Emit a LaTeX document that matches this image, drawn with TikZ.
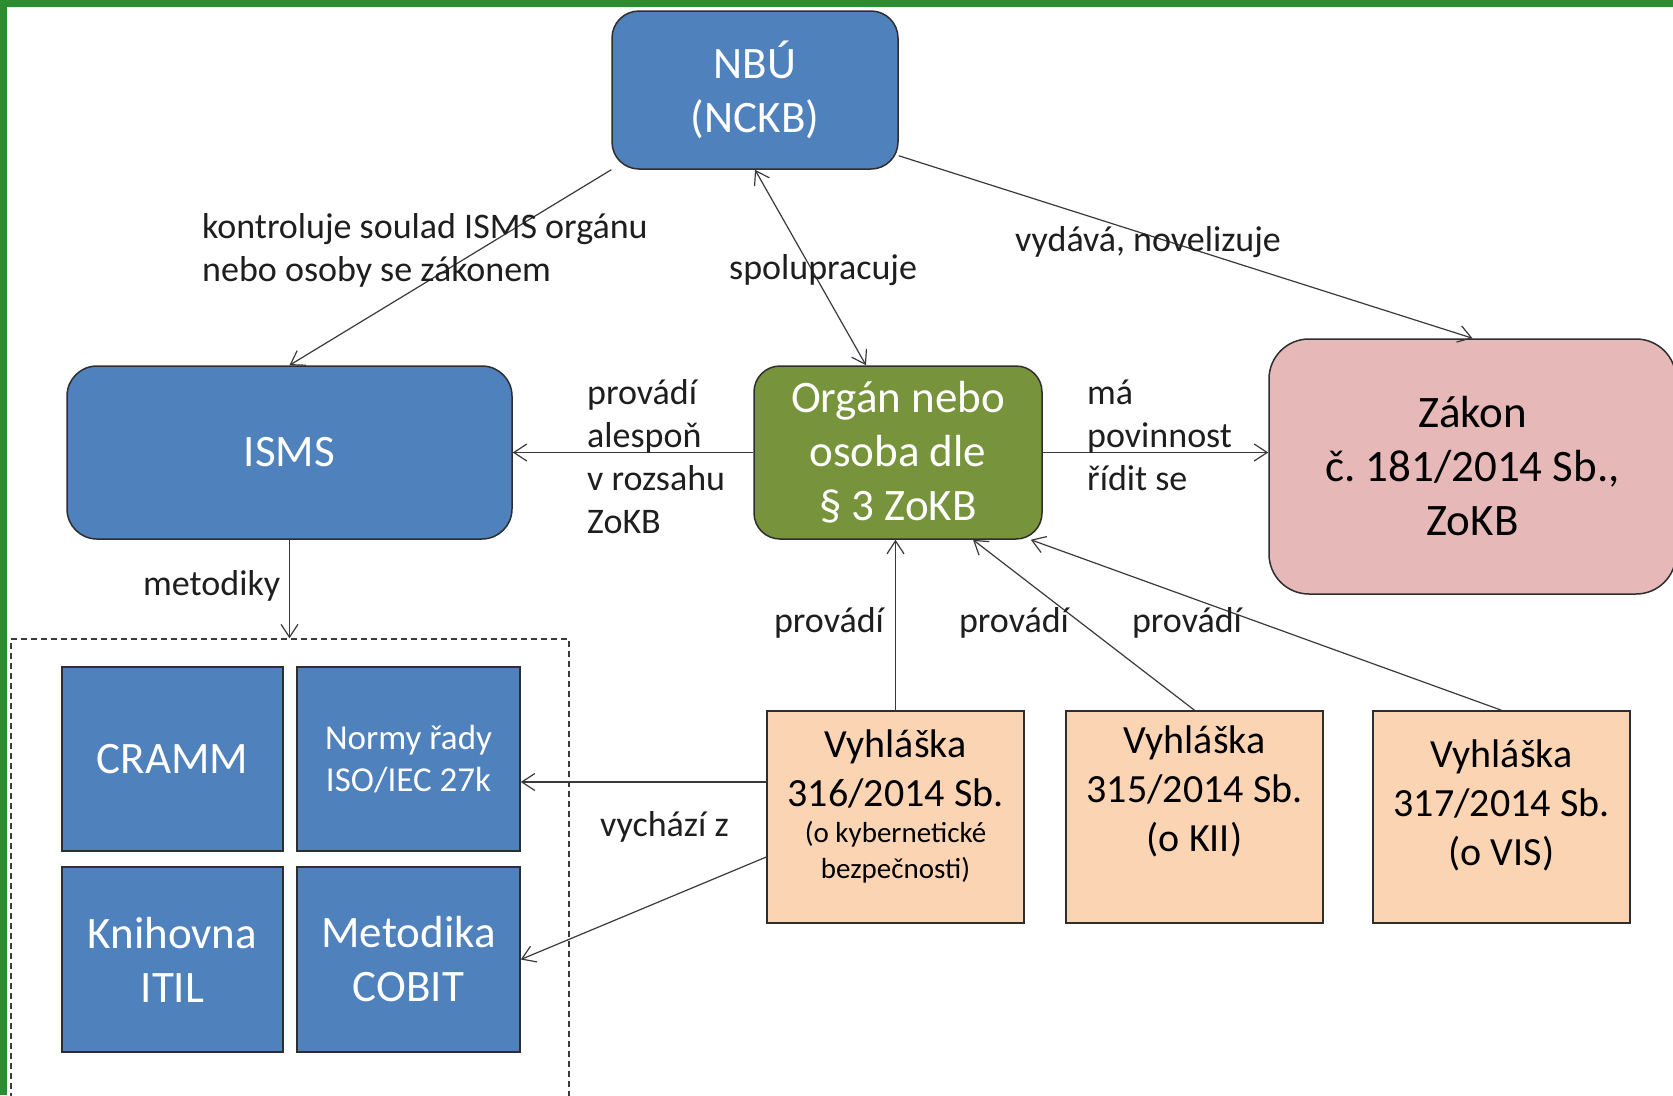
\documentclass[tikz,border=0pt]{standalone}
\usepackage{fontspec}
\setmainfont{Carlito}
\frenchspacing
\usetikzlibrary{arrows.meta,calc}
\definecolor{blueb}{HTML}{4F81BD}
\definecolor{greenb}{HTML}{77933C}
\definecolor{pinkb}{HTML}{E6B9B8}
\definecolor{peachb}{HTML}{FBD4B4}
\definecolor{boxline}{HTML}{2E2E2E}
\definecolor{linec}{HTML}{3A3A3A}
\definecolor{labc}{HTML}{1E1E1E}
\definecolor{gbar}{HTML}{2B8C30}
\tikzset{
  box/.style={rectangle, draw=boxline, line width=1.5pt, inner sep=0pt, align=center},
  bignode/.style={font=\fontsize{45}{54}\selectfont},
  lab/.style={font=\fontsize{36}{43}\selectfont, text=labc, inner sep=0pt, align=left},
  vyh/.style={font=\fontsize{40}{49}\selectfont, text=black, inner sep=0pt, align=center},
  arr/.style={draw=linec, line width=1.2pt, -{Straight Barb[length=13pt,width=17pt,line width=1.2pt]}},
  darr/.style={draw=linec, line width=1.2pt, {Straight Barb[length=13pt,width=17pt,line width=1.2pt]}-{Straight Barb[length=13pt,width=17pt,line width=1.2pt]}},
}
\begin{document}
\begin{tikzpicture}[x=1pt,y=-1pt]
\useasboundingbox (0,0) rectangle (1673,1095);
\fill[white] (0,0) rectangle (1673,1095);
% green frame
\fill[gbar] (0,0) rectangle (1673,7);
\fill[gbar] (0,0) rectangle (7,1095);

% main nodes
\node[box, bignode, fill=blueb, text=white, rounded corners=27pt, minimum width=286pt, minimum height=158pt] (nbu) at (755,90) {NBÚ\\(NCKB)};
\node[box, bignode, fill=blueb, text=white, rounded corners=30pt, minimum width=445pt, minimum height=173pt] (isms) at (289.5,452.5) {ISMS};
\node[box, bignode, fill=greenb, text=white, rounded corners=26pt, minimum width=288pt, minimum height=173pt] (org) at (898,452.5) {Orgán nebo\\osoba dle\\§ 3 ZoKB};
\node[box, bignode, fill=pinkb, text=black, rounded corners=40pt, minimum width=407pt, minimum height=255pt] (zakon) at (1472.5,466.5) {Zákon\\č. 181/2014 Sb.,\\ZoKB};

% dashed group
\node[rectangle, draw=linec, line width=1.3pt, dash pattern=on 6pt off 4pt, inner sep=0pt, minimum width=558pt, minimum height=480pt] (grp) at (290,879) {};

% methodology boxes
\node[box, bignode, fill=blueb, text=white, minimum width=221pt, minimum height=184pt] (cramm) at (172.5,759) {CRAMM};
\node[box, font=\fontsize{35}{42}\selectfont, fill=blueb, text=white, minimum width=223pt, minimum height=184pt] (normy) at (408.5,759) {Normy řady\\ISO/IEC 27k};
\node[box, bignode, fill=blueb, text=white, minimum width=221pt, minimum height=185pt] (itil) at (172.5,959.5) {Knihovna\\ITIL};
\node[box, bignode, fill=blueb, text=white, minimum width=223pt, minimum height=185pt] (cobit) at (408.5,959.5) {Metodika\\COBIT};

% vyhlasky
\node[box, fill=peachb, minimum width=257pt, minimum height=212pt] (v316) at (895.5,817) {};
\node[box, fill=peachb, minimum width=257pt, minimum height=212pt] (v315) at (1194.5,817) {};
\node[box, fill=peachb, minimum width=257pt, minimum height=212pt] (v317) at (1501.5,817) {};
\node[vyh] (v316t) at (895.5,769) {Vyhláška\\316/2014 Sb.};
\node[font=\fontsize{29}{36}\selectfont, inner sep=0pt, align=center] (v316s) at (895.5,852) {(o kybernetické\\bezpečnosti)};
\node[vyh] (v315t) at (1194.5,791) {Vyhláška\\315/2014 Sb.\\(o KII)};
\node[vyh] (v317t) at (1501.5,805) {Vyhláška\\317/2014 Sb.\\(o VIS)};

% connectors
\draw[arr] (nbu.south west) -- (isms.north);
\draw[darr] (nbu.south) -- ([xshift=-32pt]org.north);
\draw[arr] ([yshift=14pt]nbu.south east) -- (zakon.north);
\draw[arr] (org.west) -- (isms.east);
\draw[arr] (org.east) -- (org.east -| zakon.west);
\draw[arr] (isms.south) -- (isms.south |- grp.north);
\draw[arr] (v316.north) -- (v316.north |- org.south);
\draw[arr] (v315.north) -- ([xshift=75pt]org.south);
\draw[arr] (v317.north) -- ([xshift=-12pt]org.south east);
\draw[arr] ([yshift=35pt]v316.west) -- ([yshift=35pt]v316.west -| normy.east);
\draw[arr] ([yshift=-40pt]v316.west) -- (cobit.east);

% labels
\node[lab, anchor=west] (l1) at (202,250) {kontroluje soulad ISMS orgánu\\nebo osoby se zákonem};
\node[lab, anchor=west] (l2) at (729,270) {spolupracuje};
\node[lab, anchor=west] (l3) at (1015,242) {vydává, novelizuje};
\node[lab, anchor=west] (l4) at (587,457) {provádí\\alespoň\\v rozsahu\\ZoKB};
\node[lab, anchor=west] (l5) at (1087,435.5) {má\\povinnost\\řídit se};
\node[lab, anchor=west] (l6) at (143,586) {metodiky};
\node[lab] (l7) at (829,623) {provádí};
\node[lab] (l8) at (1014,623) {provádí};
\node[lab] (l9) at (1187,623) {provádí};
\node[lab, anchor=west] (l10) at (600,827) {vychází z};
\end{tikzpicture}
\end{document}
